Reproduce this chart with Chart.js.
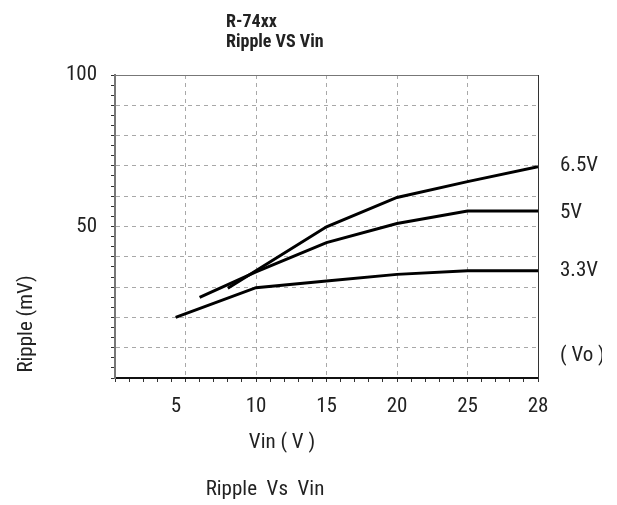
<!DOCTYPE html>
<html>
<head>
<meta charset="utf-8">
<script src="https://cdn.jsdelivr.net/npm/chart.js@4.4.1/dist/chart.umd.min.js"></script>
<style>
  html, body { margin: 0; padding: 0; background: #fff; }
  #wrap { width: 617px; height: 505px; }
</style>
</head>
<body>
<div id="wrap"><canvas id="chart"></canvas></div>
<script>
// axis positions: one grid step = 5 units, last grid line is labelled 28
const vinTickLabels = ['', '5', '10', '15', '20', '25', '28'];
const rippleTickLabels = { 15: '50', 30: '100' };   // minor tick index -> label
const voLabels = ['6.5V', '5V', '3.3V', '( Vo )'];
const voLabelValues = [70, 54.5, 35.5, 7.5];

// series (x = position on the Vin axis, y = ripple mV)
const vin33 = [4.3, 10, 15, 20, 25, 30];
const ripple33 = [20, 29.8, 32, 34.2, 35.4, 35.4];
const vin50 = [6, 10, 15, 20, 25, 30];
const ripple50 = [26.6, 35, 44.7, 51, 55.1, 55.1];
const vin65 = [8, 15, 20, 25, 30];
const ripple65 = [29.6, 49.9, 59.6, 64.8, 69.7];

const FONT = "'Liberation Sans Narrow', 'Roboto Condensed', 'DejaVu Sans Condensed', sans-serif";
const TEXT = '#222';
const GRID = '#a8a8a8';

function points(xs, ys) {
  return xs.map((x, i) => ({ x: x, y: ys[i] }));
}

function lineSet(label, xs, ys) {
  return {
    label: label,
    data: points(xs, ys),
    borderColor: '#000',
    borderWidth: 3,
    pointRadius: 0,
    tension: 0,
    fill: false
  };
}

// free texts: title, axis titles, caption
const textPlugin = {
  id: 'freeTexts',
  afterDraw(chart) {
    const ctx = chart.ctx;
    ctx.save();
    ctx.fillStyle = TEXT;
    ctx.textBaseline = 'alphabetic';

    ctx.textAlign = 'left';
    ctx.font = 'bold 18px ' + FONT;
    ctx.fillText('R-74xx', 226, 27);
    ctx.fillText('Ripple VS Vin', 226, 47);

    ctx.font = '21px ' + FONT;
    ctx.textAlign = 'center';
    ctx.fillText('Vin ( V )', 282, 448);
    ctx.fillText('Ripple  Vs  Vin', 265, 495);

    ctx.translate(32, 324);
    ctx.rotate(-Math.PI / 2);
    ctx.fillText('Ripple (mV)', 0, 0);
    ctx.restore();
  }
};

new Chart(document.getElementById('chart'), {
  type: 'line',
  data: {
    datasets: [
      lineSet('3.3V', vin33, ripple33),
      lineSet('5V', vin50, ripple50),
      lineSet('6.5V', vin65, ripple65)
    ]
  },
  options: {
    responsive: true,
    maintainAspectRatio: false,
    animation: false,
    layout: { padding: { left: 65, right: 15, top: 75, bottom: 87 } },
    plugins: {
      legend: { display: false },
      tooltip: { enabled: false },
      title: { display: false }
    },
    scales: {
      x: {
        type: 'linear',
        position: 'bottom',
        min: 0,
        max: 30,
        afterBuildTicks: scale => {
          const t = [];
          for (let v = 0; v <= 30; v++) t.push({ value: v });
          scale.ticks = t;
        },
        afterFit: scale => { scale.height = 40; },
        ticks: {
          autoSkip: false,
          maxRotation: 0,
          padding: 12,
          color: TEXT,
          font: { family: FONT, size: 21 },
          callback: (value) => {
            if (value % 5 !== 0) return '';
            const lbl = vinTickLabels[value / 5];
            return lbl === '5' ? '5    ' : lbl;
          }
        },
        grid: {
          color: ctx => (ctx.tick && ctx.tick.value % 5 === 0) ? GRID : 'rgba(0,0,0,0)',
          lineWidth: 1,
          tickColor: '#333',
          tickLength: 4,
          tickWidth: 1
        },
        border: { display: true, color: '#111', width: 2, dash: [4, 4] }
      },
      xTop: {
        type: 'linear',
        position: 'top',
        min: 0,
        max: 30,
        ticks: { display: false },
        grid: { drawOnChartArea: false, drawTicks: false },
        border: { display: true, color: '#777', width: 1 }
      },
      y: {
        type: 'linear',
        position: 'left',
        min: 0,
        max: 100,
        afterBuildTicks: scale => {
          const t = [];
          for (let k = 0; k <= 30; k++) t.push({ value: k * 10 / 3 });
          scale.ticks = t;
        },
        afterFit: scale => { scale.width = 50; },
        ticks: {
          autoSkip: false,
          padding: 14,
          color: TEXT,
          font: { family: FONT, size: 21 },
          callback: (value, index) => rippleTickLabels[index] || ''
        },
        grid: {
          color: ctx => (ctx.index % 3 === 0) ? GRID : 'rgba(0,0,0,0)',
          lineWidth: 1,
          tickColor: '#333',
          tickLength: 4,
          tickWidth: 1
        },
        border: { display: true, color: '#777', width: 2, dash: [4, 4] }
      },
      yRight: {
        type: 'linear',
        position: 'right',
        min: 0,
        max: 100,
        afterBuildTicks: scale => {
          scale.ticks = voLabelValues.map(v => ({ value: v }));
        },
        afterFit: scale => { scale.width = 64; },
        ticks: {
          autoSkip: false,
          padding: 22,
          color: TEXT,
          font: { family: FONT, size: 21 },
          callback: (value, index) => voLabels[index]
        },
        grid: { drawOnChartArea: false, drawTicks: false },
        border: { display: true, color: '#333', width: 1 }
      }
    }
  },
  plugins: [textPlugin]
});
</script>
</body>
</html>
